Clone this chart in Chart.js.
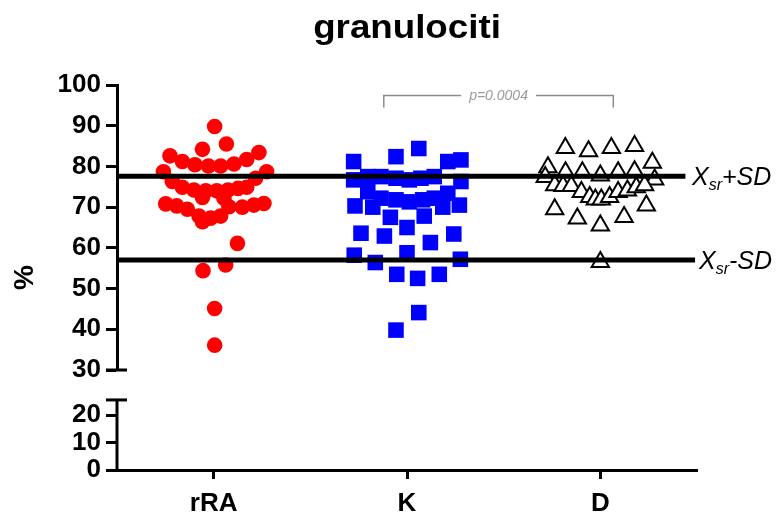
<!DOCTYPE html>
<html><head><meta charset="utf-8">
<script src="https://cdn.jsdelivr.net/npm/chart.js@4.4.0/dist/chart.umd.min.js"></script>
<style>html,body{margin:0;padding:0;background:#fff;}canvas{display:block;}</style>
</head><body>
<canvas id="c" width="777" height="516"></canvas>
<script>
// ---- data ----
const chartTitle = 'granulociti';
const yAxisLabel = '%';
const categories = ['rRA', 'K', 'D'];

const rraValues = [89.8, 84.2, 85.5, 82.6, 83.4, 81.7, 81.2, 80.4, 80.1, 80.1, 80.6, 78.7, 78.7, 77.1, 76.3, 74.9, 74.2, 74.0, 74.0, 74.2, 74.6, 74.9, 72.4, 70.8, 70.3, 69.5, 67.8, 66.4, 67.3, 67.8, 70.1, 72.2, 70.0, 70.5, 70.9, 61.1, 54.4, 55.8, 45.1, 36.1];
const rraJitter = [0.005, -0.058, 0.066, -0.226, 0.234, 0.171, -0.162, -0.097, -0.027, 0.036, 0.105, -0.260, 0.274, 0.217, -0.214, -0.162, -0.102, -0.041, 0.016, 0.074, 0.126, 0.171, -0.058, -0.248, -0.191, -0.136, -0.076, -0.058, -0.016, 0.036, 0.079, 0.053, 0.148, 0.208, 0.260, 0.123, -0.055, 0.062, 0.005, 0.005];

const kValues = [84.4, 82.4, 81.2, 81.2, 81.6, 76.7, 77.5, 77.5, 77.1, 76.7, 77.1, 77.5, 76.3, 73.8, 72.2, 71.8, 71.3, 71.8, 72.2, 73.4, 70.3, 70.0, 70.0, 70.5, 67.5, 67.8, 65.0, 63.6, 62.9, 63.4, 61.3, 58.2, 58.8, 56.4, 57.2, 53.5, 52.5, 53.5, 44.1, 39.8];
const kJitter = [0.061, -0.057, -0.276, 0.211, 0.279, -0.276, -0.203, -0.135, -0.057, 0.012, 0.072, 0.141, 0.279, -0.203, -0.135, -0.057, 0.012, 0.081, 0.141, 0.211, -0.269, -0.177, 0.185, 0.271, -0.086, 0.089, 0.000, -0.238, -0.117, 0.242, 0.121, -0.273, 0.000, -0.164, 0.276, -0.053, 0.055, 0.167, 0.061, -0.057];

const dValues = [84.5, 83.7, 84.5, 85.0, 79.8, 80.9, 78.6, 78.6, 77.8, 78.6, 78.8, 77.4, 76.8, 75.4, 75.2, 75.2, 73.7, 72.5, 71.9, 71.9, 72.5, 73.7, 74.1, 74.9, 75.4, 69.5, 67.2, 65.5, 67.6, 70.4, 56.5];
const dJitter = [-0.181, -0.061, 0.057, 0.177, -0.271, 0.269, -0.180, -0.093, 0.000, 0.092, 0.177, -0.285, 0.281, -0.236, -0.193, -0.150, -0.098, -0.055, -0.026, 0.005, 0.048, 0.092, 0.140, 0.186, 0.229, -0.236, -0.119, 0.000, 0.123, 0.238, 0.000];

const upperRange = [30, 100];
const lowerRange = [0, 20];
const sdLevels = [77.6, 57.0];
const sdSigns = ['+', '-'];
const pValueText = 'p=0.0004';
const pPair = [1, 2];

// ---- chart ----
const FONT = '"Liberation Sans", Arial, Helvetica, sans-serif';
const LOWER_TOP = 25.5;   // end of the short lower axis segment
const LOWER_MAX = 36.4;   // room for the axis break gap

function toPoints(vals, jit, idx) {
  return vals.map((v, i) => ({ x: idx + jit[i], y: v }));
}

const overlay = {
  id: 'overlay',
  afterDatasetsDraw(chart) {
    const ctx = chart.ctx, x = chart.scales.x, yU = chart.scales.y;
    const ca = chart.chartArea;
    ctx.save();
    const lineEnds = [2.44, 2.49];
    ctx.strokeStyle = '#000';
    ctx.lineWidth = 5;
    sdLevels.forEach((lv, i) => {
      const py = yU.getPixelForValue(lv);
      ctx.beginPath();
      ctx.moveTo(ca.left, py);
      ctx.lineTo(x.getPixelForValue(lineEnds[i]), py);
      ctx.stroke();
    });
    ctx.restore();
  },
  afterDraw(chart) {
    const ctx = chart.ctx, x = chart.scales.x, yU = chart.scales.y, yL = chart.scales.yLow;
    const ca = chart.chartArea;
    ctx.save();
    ctx.strokeStyle = '#000';
    ctx.lineWidth = 3;
    ctx.beginPath();
    ctx.moveTo(ca.left, yL.getPixelForValue(0) + 1.5);
    ctx.lineTo(ca.left, yL.getPixelForValue(LOWER_TOP));
    ctx.stroke();
    [yU.getPixelForValue(upperRange[0]), yL.getPixelForValue(LOWER_TOP)].forEach(py => {
      ctx.beginPath();
      ctx.moveTo(ca.left - 11, py);
      ctx.lineTo(ca.left + 10, py);
      ctx.stroke();
    });

    // title
    ctx.fillStyle = '#000';
    ctx.save();
    ctx.translate((ca.left + ca.right) / 2, 38);
    ctx.scale(1.08, 1);
    ctx.font = 'bold 34px ' + FONT;
    ctx.textAlign = 'center';
    ctx.textBaseline = 'alphabetic';
    ctx.fillText(chartTitle, 0, 0);
    ctx.restore();

    // y axis label
    ctx.save();
    ctx.translate(25, (ca.top + ca.bottom) / 2);
    ctx.rotate(-Math.PI / 2);
    ctx.font = 'bold 28px ' + FONT;
    ctx.textAlign = 'center';
    ctx.textBaseline = 'middle';
    ctx.fillText(yAxisLabel, 0, 0);
    ctx.restore();

    // SD labels
    const labelX = [692, 699];
    sdLevels.forEach((lv, i) => {
      const py = yU.getPixelForValue(lv);
      let px = labelX[i];
      ctx.textAlign = 'left';
      ctx.textBaseline = 'alphabetic';
      ctx.font = 'italic 25px ' + FONT;
      ctx.fillText('X', px, py + 9);
      px += ctx.measureText('X').width;
      ctx.font = 'italic 16px ' + FONT;
      ctx.fillText('sr', px, py + 14);
      px += ctx.measureText('sr').width;
      ctx.font = 'italic 25px ' + FONT;
      ctx.fillText(sdSigns[i] + 'SD', px, py + 9);
    });

    // p-value bracket
    const bx1 = x.getPixelForValue(pPair[0] - 0.12);
    const bx2 = x.getPixelForValue(pPair[1] + 0.067);
    const by = 95.5;
    ctx.strokeStyle = '#8c8c8c';
    ctx.lineWidth = 1.5;
    ctx.font = 'italic 14px ' + FONT;
    const tw = ctx.measureText(pValueText).width;
    const cx = (bx1 + bx2) / 2;
    ctx.beginPath();
    ctx.moveTo(bx1, by + 12); ctx.lineTo(bx1, by); ctx.lineTo(cx - tw / 2 - 8, by);
    ctx.moveTo(cx + tw / 2 + 8, by); ctx.lineTo(bx2, by); ctx.lineTo(bx2, by + 12);
    ctx.stroke();
    ctx.fillStyle = '#9a9a9a';
    ctx.textAlign = 'center';
    ctx.textBaseline = 'middle';
    ctx.fillText(pValueText, cx, by + 1);
    ctx.restore();
  }
};

const tickFont = { family: FONT, size: 26, weight: 'bold' };

new Chart(document.getElementById('c'), {
  type: 'scatter',
  data: {
    datasets: [
      { label: categories[0], data: toPoints(rraValues, rraJitter, 0), xAxisID: 'x', yAxisID: 'y',
        pointStyle: 'circle', pointRadius: 7.8,
        backgroundColor: '#ff0000', borderColor: '#ff0000', borderWidth: 0 },
      { label: categories[1], data: toPoints(kValues, kJitter, 1), xAxisID: 'x', yAxisID: 'y',
        pointStyle: 'rect', pointRadius: 11,
        backgroundColor: '#0000ff', borderColor: '#0000ff', borderWidth: 0 },
      { label: categories[2], data: toPoints(dValues, dJitter, 2), xAxisID: 'x', yAxisID: 'y',
        pointStyle: 'triangle', pointRadius: 10,
        backgroundColor: '#ffffff', borderColor: '#000000', borderWidth: 2 }
    ]
  },
  options: {
    responsive: false,
    animation: false,
    events: [],
    layout: { padding: { top: 85, right: 80, left: 0, bottom: 0 } },
    plugins: { legend: { display: false }, tooltip: { enabled: false }, title: { display: false } },
    scales: {
      x: {
        type: 'linear', min: -0.5, max: 2.5,
        afterBuildTicks: s => { s.ticks = categories.map((c, i) => ({ value: i })); },
        afterFit: s => { s.height = 46; },
        ticks: { callback: v => categories[v], font: { family: FONT, size: 26, weight: 'bold' }, color: '#000', padding: 9, maxRotation: 0, autoSkip: false },
        grid: { drawOnChartArea: false, drawTicks: true, tickLength: 9, tickWidth: 3, tickColor: '#000', color: '#000' },
        border: { display: true, color: '#000', width: 3 }
      },
      yLow: {
        type: 'linear', position: 'left', stack: 'ax', stackWeight: 100, weight: 0,
        min: lowerRange[0], max: LOWER_MAX,
        afterBuildTicks: s => { s.ticks = [0, 10, 20].filter(v => v <= lowerRange[1]).map(v => ({ value: v })); },
        afterFit: s => { s.width = 117; },
        ticks: { font: tickFont, color: '#000', padding: 5, autoSkip: false },
        grid: { drawOnChartArea: false, drawTicks: true, tickLength: 11, tickWidth: 3, tickColor: '#000', color: '#000' },
        border: { display: false }
      },
      y: {
        type: 'linear', position: 'left', stack: 'ax', stackWeight: 285, weight: 1,
        min: upperRange[0], max: upperRange[1],
        ticks: { stepSize: 10, font: tickFont, color: '#000', padding: 5, autoSkip: false },
        afterFit: s => { s.width = 117; },
        grid: { drawOnChartArea: false, drawTicks: true, tickLength: 11, tickWidth: 3, tickColor: '#000', color: '#000' },
        border: { display: true, color: '#000', width: 3 }
      }
    }
  },
  plugins: [overlay]
});
</script>
</body></html>
